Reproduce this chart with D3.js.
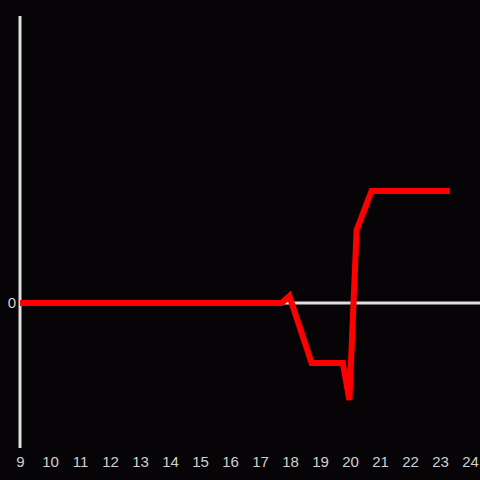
<!DOCTYPE html>
<html><head><meta charset="utf-8">
<script src="https://cdn.jsdelivr.net/npm/d3@7"></script>
<style>html,body{margin:0;padding:0;background:#060406;}svg{display:block;}</style>
</head><body>
<script>
const hours = [9, 17.72, 17.98, 18.72, 19.76, 19.98, 20.22, 20.72, 23.33];
const values = [0, 0, 0.7, -6.0, -6.0, -9.7, 7.3, 11.2, 11.2];
const xTicks = [9,10,11,12,13,14,15,16,17,18,19,20,21,22,23,24];
const yTicks = [0];

const W = 480, H = 480;
const svg = d3.select("body").append("svg").attr("width", W).attr("height", H)
  .style("background", "#060406");
const x = d3.scaleLinear().domain([9, 24]).range([20, 470]);
const y = d3.scaleLinear().domain([-14.5, 28.7]).range([448, 16]);

// y axis line
svg.append("line").attr("x1", 20).attr("x2", 20).attr("y1", 16).attr("y2", 448)
  .attr("stroke", "#e0e0e0").attr("stroke-width", 3);
// zero line
svg.append("line").attr("x1", 20).attr("x2", 480).attr("y1", y(0)).attr("y2", y(0))
  .attr("stroke", "#e0e0e0").attr("stroke-width", 3);

// x tick labels
const xAxis = d3.axisBottom(x).tickValues(xTicks).tickSize(0).tickPadding(0).tickFormat(d3.format("d"));
const gx = svg.append("g").attr("transform", "translate(0,456)").call(xAxis);
gx.select(".domain").remove();
gx.selectAll("text").attr("fill", "#d0d0d0").style("font-family", "Liberation Sans, Arial, sans-serif")
  .style("font-size", "15px");

const yAxis = d3.axisLeft(y).tickValues(yTicks).tickSize(0).tickPadding(4);
const gy = svg.append("g").attr("transform", "translate(20,0)").call(yAxis);
gy.select(".domain").remove();
gy.selectAll("text").attr("fill", "#d0d0d0").style("font-family", "Liberation Sans, Arial, sans-serif")
  .style("font-size", "15px");

const line = d3.line().x((d, i) => x(hours[i])).y((d) => y(d));
svg.append("path").datum(values).attr("d", line)
  .attr("fill", "none").attr("stroke", "#ff0000").attr("stroke-width", 6)
  .attr("stroke-linejoin", "miter");
</script>
</body></html>
